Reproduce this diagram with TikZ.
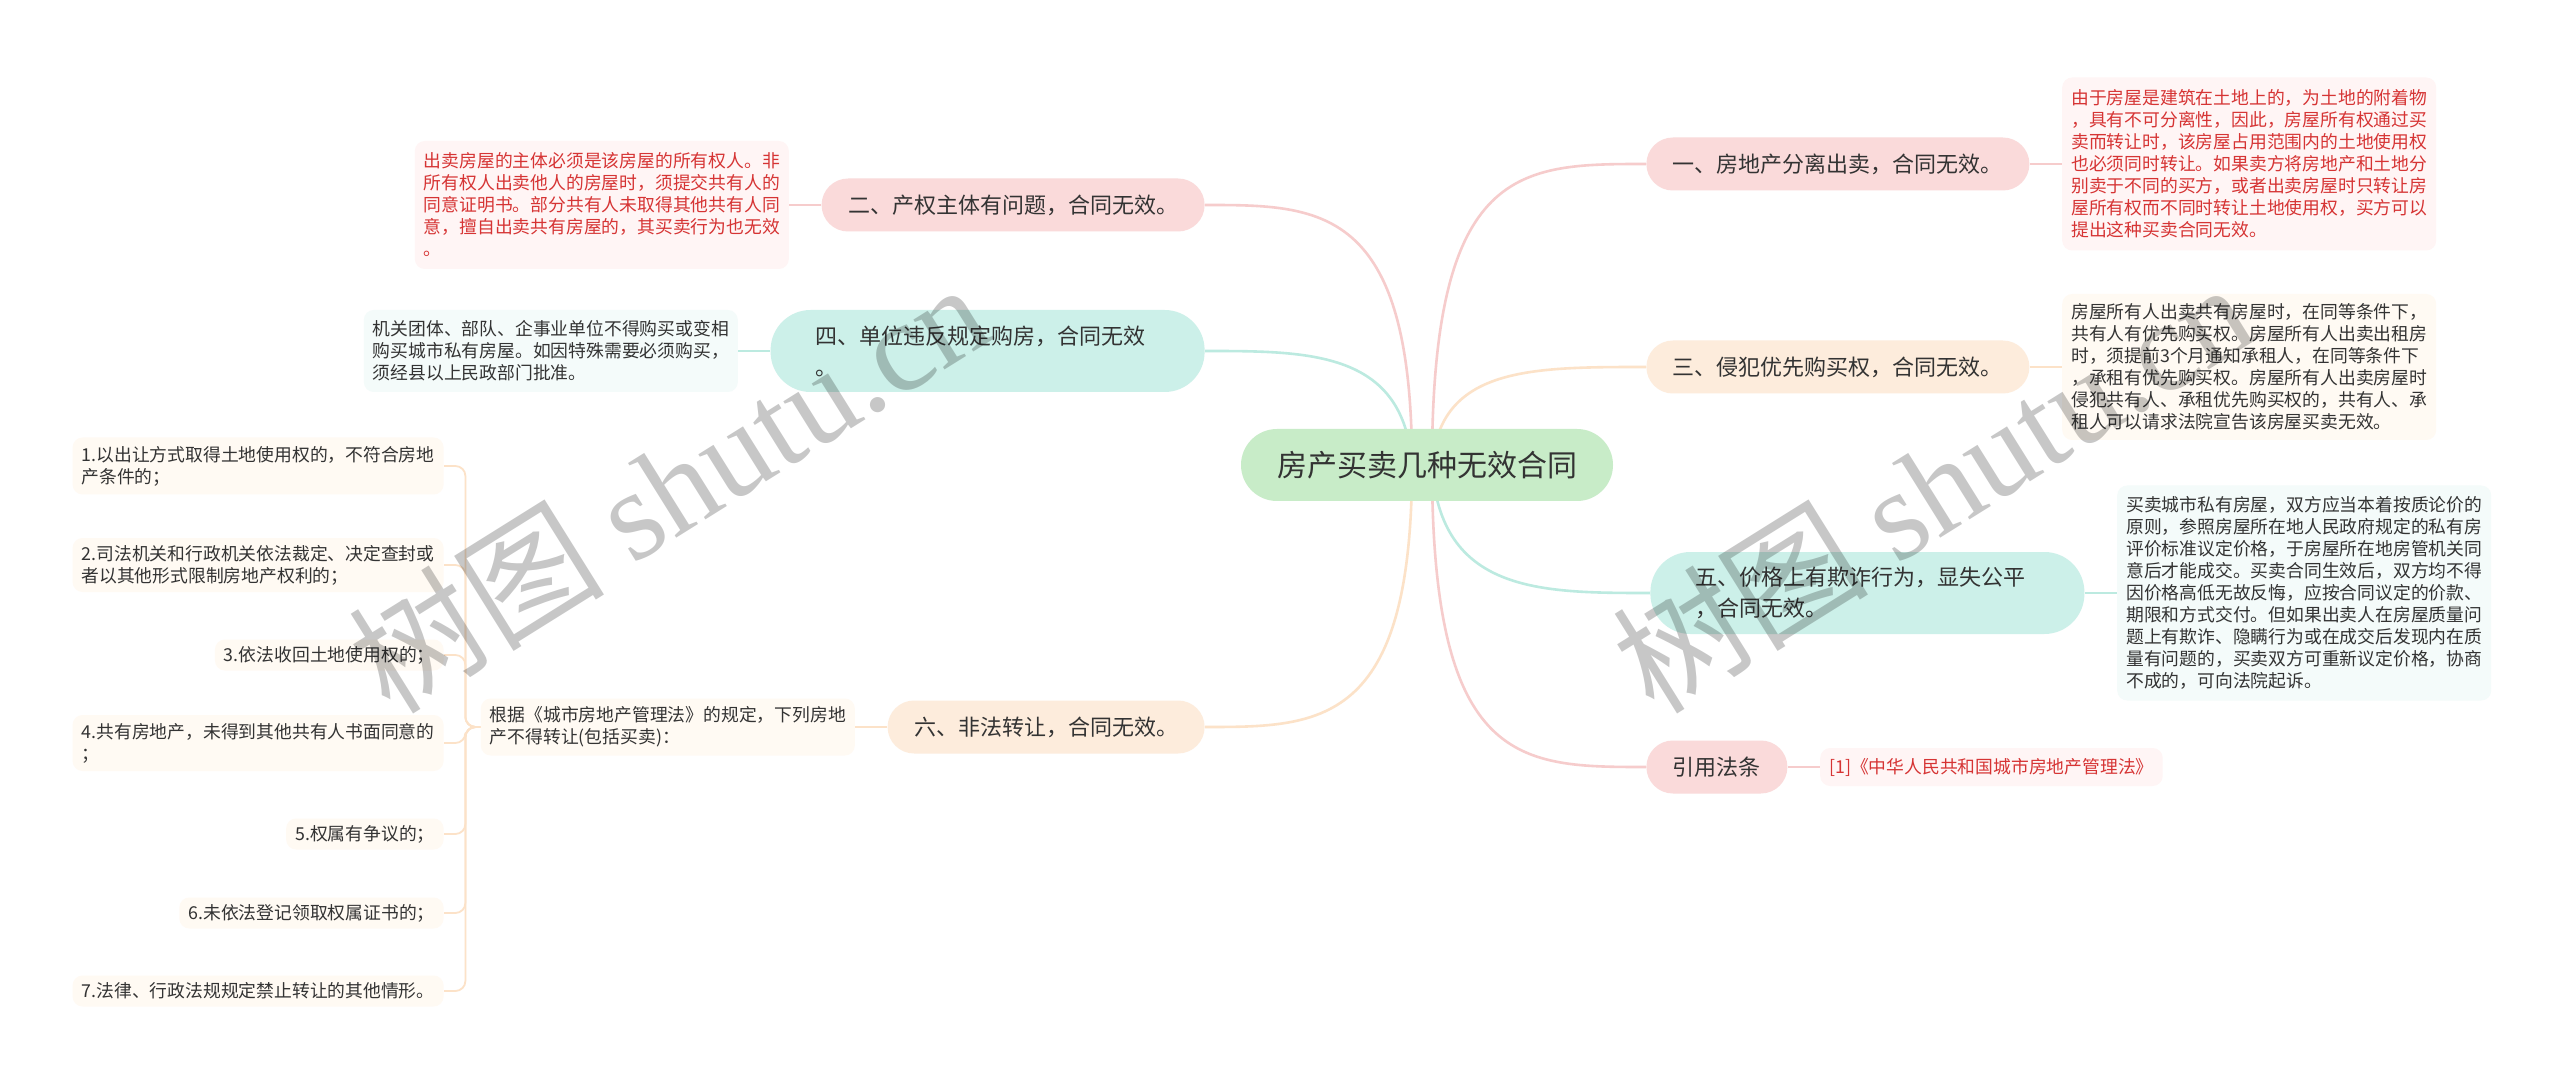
\documentclass[tikz,border=0pt]{standalone}
\usepackage{fontspec}
\setmainfont{Noto Sans CJK SC}
\newfontfamily\wmserif{Liberation Serif}
\usetikzlibrary{positioning}
\pgfdeclarelayer{bg}
\pgfdeclarelayer{paper}
\pgfsetlayers{paper,bg,main}
\definecolor{txt}{RGB}{51,51,51}
\definecolor{redtxt}{RGB}{214,52,52}
\definecolor{rootfill}{RGB}{200,236,200}
\definecolor{pinkfill}{RGB}{250,218,218}
\definecolor{orgfill}{RGB}{253,236,220}
\definecolor{tealfill}{RGB}{204,240,233}
\definecolor{pinkbox}{RGB}{255,245,245}
\definecolor{orgbox}{RGB}{255,250,243}
\definecolor{tealbox}{RGB}{244,251,250}
\definecolor{pinkline}{RGB}{246,204,204}
\definecolor{orgline}{RGB}{252,226,200}
\definecolor{tealline}{RGB}{188,234,224}
\begin{document}
\begin{tikzpicture}[x=0.5pt,y=-0.5pt,
  rootnode/.style={fill=rootfill, rounded corners=18pt, minimum height=36pt, inner xsep=18pt, inner ysep=2pt, font=\fontsize{15}{18}\selectfont, text=txt},
  branch/.style={rounded corners=13.25pt, minimum height=26.5pt, inner xsep=13.25pt, inner ysep=2pt, font=\fontsize{11}{15.5}\selectfont, text=txt},
  branchtwo/.style={branch, text width=172pt, align=left, inner xsep=22.5pt, minimum height=41pt, rounded corners=20pt},
  detail/.style={rounded corners=5pt, inner xsep=4.5pt, inner ysep=2pt, align=left, font=\fontsize{8.9}{11}\selectfont, text=txt},
  itembox/.style={detail, fill=orgbox, anchor=east},
  pinkln/.style={draw=pinkline, line width=1.3pt},
  orgln/.style={draw=orgline, line width=1.3pt},
  tealln/.style={draw=tealline, line width=1.3pt},
  busln/.style={draw=orgline, line width=0.9pt, rounded corners=5pt},
  wm/.style={font=\fontsize{64}{64}\selectfont, text=black, text opacity=0.22, inner sep=0pt}
]
\useasboundingbox (0,0) rectangle (2560,1085);
\begin{pgfonlayer}{paper}
\fill[white] (0,0) rectangle (2560,1085);
\end{pgfonlayer}

% root
\node[rootnode] (root) at (1427,465) {房产买卖几种无效合同};
\coordinate (rR) at (1432,465);
\coordinate (rL) at (1412,465);

% right branches
\node[branch, fill=pinkfill, anchor=west] (b1) at (1646,164) {一、房地产分离出卖，合同无效。};
\node[branch, fill=orgfill, anchor=west] (b3) at (1646,367) {三、侵犯优先购买权，合同无效。};
\node[branchtwo, fill=tealfill, anchor=west] (b5) at (1650,593) {五、价格上有欺诈行为，显失公平\\，合同无效。};
\node[branch, fill=pinkfill, anchor=west] (bref) at (1646,767) {引用法条};

% left branches
\node[branch, fill=pinkfill, anchor=east] (b2) at (1205,205) {二、产权主体有问题，合同无效。};
\node[branchtwo, fill=tealfill, anchor=east] (b4) at (1205,351) {四、单位违反规定购房，合同无效\\。};
\node[branch, fill=orgfill, anchor=east] (b6) at (1205,727) {六、非法转让，合同无效。};

% right details
\node[detail, fill=pinkbox, text=redtxt, minimum height=86.5pt, right=16pt of b1] (d1) {由于房屋是建筑在土地上的，为土地的附着物\\，具有不可分离性，因此，房屋所有权通过买\\卖而转让时，该房屋占用范围内的土地使用权\\也必须同时转让。如果卖方将房地产和土地分\\别卖于不同的买方，或者出卖房屋时只转让房\\屋所有权而不同时转让土地使用权，买方可以\\提出这种买卖合同无效。};
\node[detail, fill=orgbox, minimum height=73pt, right=16pt of b3] (d3) {房屋所有人出卖共有房屋时，在同等条件下，\\共有人有优先购买权。房屋所有人出卖出租房\\时，须提前3个月通知承租人，在同等条件下\\，承租有优先购买权。房屋所有人出卖房屋时\\侵犯共有人、承租优先购买权的，共有人、承\\租人可以请求法院宣告该房屋买卖无效。};
\node[detail, fill=tealbox, minimum height=107.5pt, right=16pt of b5] (d5) {买卖城市私有房屋，双方应当本着按质论价的\\原则，参照房屋所在地人民政府规定的私有房\\评价标准议定价格，于房屋所在地房管机关同\\意后才能成交。买卖合同生效后，双方均不得\\因价格高低无故反悔，应按合同议定的价款、\\期限和方式交付。但如果出卖人在房屋质量问\\题上有欺诈、隐瞒行为或在成交后发现内在质\\量有问题的，买卖双方可重新议定价格，协商\\不成的，可向法院起诉。};
\node[detail, fill=pinkbox, text=redtxt, minimum height=19pt, right=16pt of bref] (dref) {[1]《中华人民共和国城市房地产管理法》};

% left details
\node[detail, fill=pinkbox, text=redtxt, minimum height=64pt, left=16pt of b2] (d2) {出卖房屋的主体必须是该房屋的所有权人。非\\所有权人出卖他人的房屋时，须提交共有人的\\同意证明书。部分共有人未取得其他共有人同\\意，擅自出卖共有房屋的，其买卖行为也无效\\。};
\node[detail, fill=tealbox, minimum height=41pt, left=16pt of b4] (d4) {机关团体、部队、企事业单位不得购买或变相\\购买城市私有房屋。如因特殊需要必须购买，\\须经县以上民政部门批准。};
\node[detail, fill=orgbox, minimum height=28.5pt, left=16pt of b6] (d6) {根据《城市房地产管理法》的规定，下列房地\\产不得转让(包括买卖)：};

% items
\node[itembox, minimum height=28.5pt] (i1) at (444,466) {1.以出让方式取得土地使用权的，不符合房地\\产条件的；};
\node[itembox, minimum height=27pt] (i2) at (444,565) {2.司法机关和行政机关依法裁定、决定查封或\\者以其他形式限制房地产权利的；};
\node[itembox, minimum height=15.5pt] (i3) at (444,655) {3.依法收回土地使用权的；};
\node[itembox, minimum height=28pt] (i4) at (444,743) {4.共有房地产，未得到其他共有人书面同意的\\；};
\node[itembox, minimum height=15.5pt] (i5) at (444,834) {5.权属有争议的；};
\node[itembox, minimum height=15.5pt] (i6) at (444,913) {6.未依法登记领取权属证书的；};
\node[itembox, minimum height=15.5pt] (i7) at (444,991) {7.法律、行政法规规定禁止转让的其他情形。};

\begin{pgfonlayer}{bg}
% root connectors
\draw[pinkln] (rR) .. controls (1432,164) and (1520,164) .. (b1.west);
\draw[orgln] (rR) .. controls (1440,367) and (1530,367) .. (b3.west);
\draw[tealln] (rR) .. controls (1440,593) and (1540,593) .. (b5.west);
\draw[pinkln] (rR) .. controls (1432,767) and (1520,767) .. (bref.west);
\draw[pinkln] (rL) .. controls (1412,205) and (1320,205) .. (b2.east);
\draw[tealln] (rL) .. controls (1404,351) and (1310,351) .. (b4.east);
\draw[orgln] (rL) .. controls (1412,727) and (1320,727) .. (b6.east);
% branch to detail
\draw[pinkln] (b1.east) -- (d1.west);
\draw[orgln] (b3.east) -- (d3.west);
\draw[tealln] (b5.east) -- (d5.west);
\draw[pinkln] (bref.east) -- (dref.west);
\draw[pinkln] (b2.west) -- (d2.east);
\draw[tealln] (b4.west) -- (d4.east);
\draw[orgln] (b6.west) -- (d6.east);
% bracket
\foreach \i in {i1,i2,i3,i4,i5,i6,i7}{
  \draw[busln] (d6.west) -- ++(-15,0) |- (\i.east);
}
\end{pgfonlayer}

% watermarks
\node[wm, rotate=32] (wm1) at (668,486) {树图 {\wmserif shutu.cn}};
\node[wm, rotate=32] (wm2) at (1932,486) {树图 {\wmserif shutu.cn}};
\end{tikzpicture}
\end{document}
